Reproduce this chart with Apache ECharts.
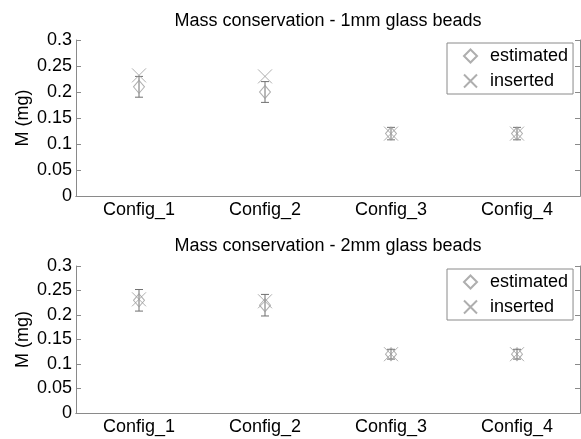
<!DOCTYPE html>
<html>
<head>
<meta charset="utf-8">
<script src="https://cdn.jsdelivr.net/npm/echarts@6/dist/echarts.min.js"></script>
<style>
  html, body { margin: 0; padding: 0; background: #fff; }
  #main { width: 581px; height: 439px; }
</style>
</head>
<body>
<div id="main"></div>
<script>
const categories = ['Config_1', 'Config_2', 'Config_3', 'Config_4'];
const titles = ['Mass conservation - 1mm glass beads', 'Mass conservation - 2mm glass beads'];

// 1mm beads
const estimated1 = [0.21, 0.20, 0.12, 0.12];
const error1 = [0.02, 0.02, 0.012, 0.012];
const inserted1 = [0.232, 0.23, 0.12, 0.12];

// 2mm beads
const estimated2 = [0.23, 0.22, 0.12, 0.12];
const error2 = [0.022, 0.022, 0.01, 0.01];
const inserted2 = [0.232, 0.228, 0.12, 0.12];

const FONT = 'Liberation Sans, Arial, sans-serif';
const AXIS_COLOR = '#8a8a8a';
const MARK_COLOR = '#9a9a9a';
const BAR_COLOR = '#707070';

const chartDom = document.getElementById('main');
const myChart = echarts.init(chartDom, null, { renderer: 'canvas' });

const grids = [
  { left: 76, top: 40, width: 504, height: 156 },
  { left: 76, top: 266, width: 504, height: 147 },
];

function xAxes(gridIndex) {
  const base = {
    type: 'category',
    data: categories,
    gridIndex: gridIndex,
    boundaryGap: true,
    axisLine: { lineStyle: { color: AXIS_COLOR, width: 1 } },
    axisTick: { inside: true, length: 5, alignWithLabel: true, lineStyle: { color: AXIS_COLOR } },
    splitLine: { show: false },
  };
  return [
    Object.assign({}, base, {
      position: 'bottom',
      axisLabel: { color: '#000', fontSize: 18, fontFamily: FONT, margin: 5 },
    }),
    Object.assign({}, base, { position: 'top', axisLabel: { show: false } }),
  ];
}

function yAxes(gridIndex) {
  const base = {
    type: 'value',
    gridIndex: gridIndex,
    min: 0,
    max: 0.3,
    interval: 0.05,
    axisLine: { show: true, lineStyle: { color: AXIS_COLOR, width: 1 } },
    axisTick: { show: true, inside: true, length: 5, lineStyle: { color: AXIS_COLOR } },
    splitLine: { show: false },
  };
  return [
    Object.assign({}, base, {
      position: 'left',
      name: 'M (mg)',
      nameLocation: 'middle',
      nameGap: 44,
      nameMoveOverlap: false,
      nameTextStyle: { color: '#000', fontSize: 18, fontFamily: FONT },
      axisLabel: { color: '#000', fontSize: 18, fontFamily: FONT, margin: 4 },
    }),
    Object.assign({}, base, { position: 'right', axisLabel: { show: false } }),
  ];
}

function errorSeries(gridIndex, est, err) {
  return {
    type: 'custom',
    xAxisIndex: gridIndex * 2,
    yAxisIndex: gridIndex * 2,
    silent: true,
    z: 1,
    data: est.map((v, i) => [i, v - err[i], v + err[i]]),
    renderItem: function (params, api) {
      const lo = api.coord([api.value(0), api.value(1)]);
      const hi = api.coord([api.value(0), api.value(2)]);
      const half = 4;
      const style = { stroke: BAR_COLOR, lineWidth: 1 };
      return {
        type: 'group',
        children: [
          { type: 'line', shape: { x1: lo[0], y1: lo[1], x2: hi[0], y2: hi[1] }, style: style },
          { type: 'line', shape: { x1: lo[0] - half, y1: lo[1], x2: lo[0] + half, y2: lo[1] }, style: style },
          { type: 'line', shape: { x1: hi[0] - half, y1: hi[1], x2: hi[0] + half, y2: hi[1] }, style: style },
        ],
      };
    },
  };
}

const crossPath = 'path://M0,0L10,10M10,0L0,10';

function markerSeries(gridIndex, est, ins) {
  return [
    {
      name: 'estimated',
      type: 'scatter',
      xAxisIndex: gridIndex * 2,
      yAxisIndex: gridIndex * 2,
      symbol: 'diamond',
      symbolSize: [11, 13],
      itemStyle: { color: 'rgba(0,0,0,0)', borderColor: MARK_COLOR, borderWidth: 1 },
      z: 3,
      data: est.map((v, i) => [i, v]),
    },
    {
      name: 'inserted',
      type: 'scatter',
      xAxisIndex: gridIndex * 2,
      yAxisIndex: gridIndex * 2,
      symbol: crossPath,
      symbolSize: 14,
      itemStyle: { color: 'rgba(0,0,0,0)', borderColor: MARK_COLOR, borderWidth: 1 },
      z: 3,
      data: ins.map((v, i) => [i, v]),
    },
  ];
}

function legendFor(top) {
  return {
    orient: 'vertical',
    left: 447,
    top: top,
    padding: [3, 5, 3, 16],
    itemWidth: 13,
    itemHeight: 13,
    itemGap: 5,
    borderColor: AXIS_COLOR,
    borderWidth: 1,
    backgroundColor: '#fff',
    textStyle: { color: '#000', fontSize: 18, fontFamily: FONT, lineHeight: 20, padding: [0, 0, 0, 8] },
    data: ['estimated', 'inserted'],
  };
}

const option = {
  animation: false,
  backgroundColor: '#fff',
  title: titles.map((t, i) => ({
    text: t,
    left: 328,
    textAlign: 'center',
    top: i === 0 ? 12 : 237,
    padding: 0,
    textStyle: { color: '#000', fontSize: 18, fontWeight: 'normal', fontFamily: FONT },
  })),
  grid: grids,
  legend: [legendFor(43), legendFor(269)],
  xAxis: xAxes(0).concat(xAxes(1)),
  yAxis: yAxes(0).concat(yAxes(1)),
  series: [errorSeries(0, estimated1, error1)]
    .concat(markerSeries(0, estimated1, inserted1))
    .concat([errorSeries(1, estimated2, error2)])
    .concat(markerSeries(1, estimated2, inserted2)),
};

myChart.setOption(option);
</script>
</body>
</html>
